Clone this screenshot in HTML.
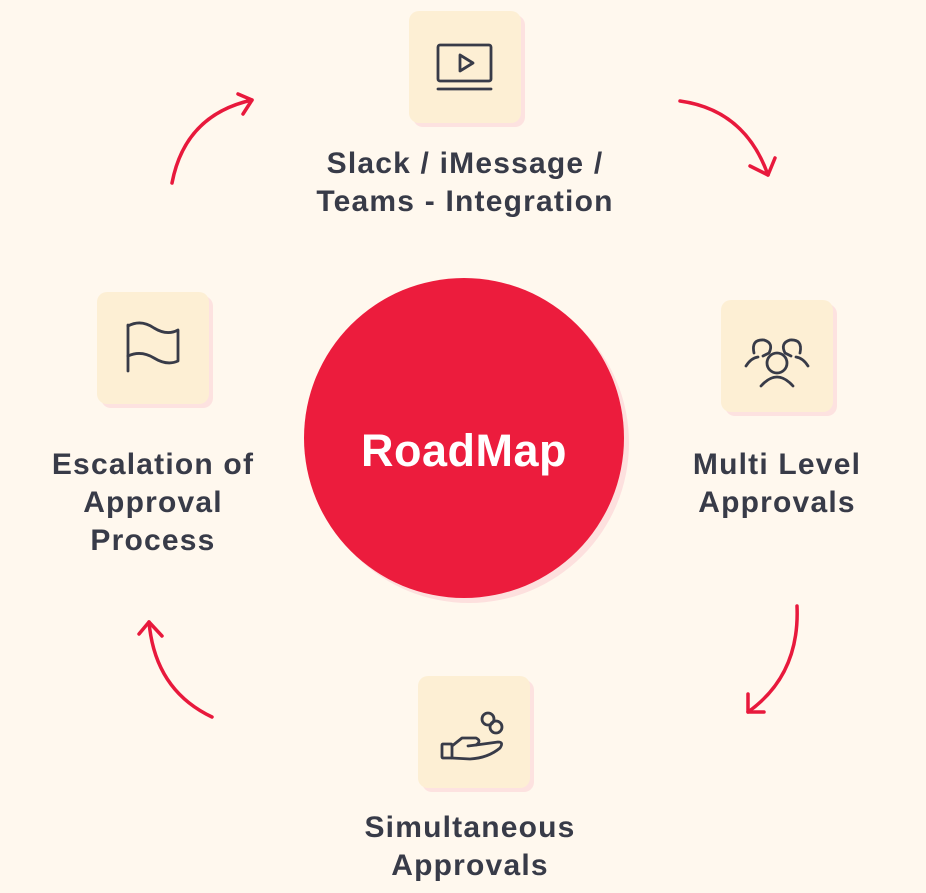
<!DOCTYPE html>
<html><head><meta charset="utf-8"><style>
html,body{margin:0;padding:0}
body{width:926px;height:893px;background:#fff8ee;position:relative;overflow:hidden;font-family:"Liberation Sans",sans-serif}
.box{position:absolute;width:112px;height:112px;background:#fdefd4;border-radius:10px;box-shadow:4px 4px 0 #fde2e0}
.box svg{position:absolute;left:0;top:0}
.lbl{position:absolute;text-align:center;color:#383b48;font-size:30px;line-height:38px;font-weight:bold;letter-spacing:1.2px;white-space:nowrap;transform:translateX(-50%)}
.circ{position:absolute;left:304px;top:278px;width:320px;height:320px;border-radius:50%;background:#ec1c3d;box-shadow:5px 5px 0 #fde0de}
.circ span{position:absolute;left:0;right:0;top:150px;text-align:center;color:#fff;font-weight:bold;font-size:45px;line-height:46px;letter-spacing:0.5px}
</style></head><body>
<svg width="926" height="893" style="position:absolute;left:0;top:0" fill="none" stroke="#e8193c" stroke-width="3.5" stroke-linecap="round" stroke-linejoin="round">
<path d="M172 183 Q185 115 252 100"/><path d="M238 94 L252 100 L243 114"/>
<path d="M680 101 Q745 110 768 175"/><path d="M750 166 L768 175 L775 158"/>
<path d="M797 606 Q800 675 748 712"/><path d="M748 694 L748 712 L764 712"/>
<path d="M212 717 Q155 690 149 622"/><path d="M139 634 L149 622 L162 636"/>
</svg>

<div class="box" style="left:409px;top:11px"><svg width="112" height="112" fill="none" stroke="#383b48" stroke-width="2.8" stroke-linecap="round" stroke-linejoin="round"><rect x="29" y="34" width="53" height="36" rx="2"/><path d="M51 44 L51 60 L64 52 Z"/><path d="M29 78 L82 78"/></svg></div>
<div class="box" style="left:721px;top:300px"><svg width="112" height="112" fill="none" stroke="#383b48" stroke-width="2.8" stroke-linecap="round" stroke-linejoin="round"><circle cx="56" cy="63" r="10"/><path d="M40 86 Q56 68 72 86"/><path d="M33 53 Q30 39 43 40 Q53 43 48 53 L42 56"/><path d="M25 66 Q30 58 37 57"/><path d="M79 53 Q82 39 69 40 Q59 43 64 53 L70 56"/><path d="M87 66 Q82 58 75 57"/></svg></div>
<div class="box" style="left:418px;top:676px"><svg width="112" height="112" fill="none" stroke="#383b48" stroke-width="2.8" stroke-linecap="round" stroke-linejoin="round"><circle cx="70" cy="43" r="6"/><circle cx="78" cy="51" r="6"/><rect x="24" y="68" width="10" height="14" rx="1"/><path d="M34 70 L44 62 L58 62 Q64 65 58 69 L50 70"/><path d="M58 69 L80 66 Q86 66 82 72 Q70 82 52 83 L34 82"/></svg></div>
<div class="box" style="left:97px;top:292px"><svg width="112" height="112" fill="none" stroke="#383b48" stroke-width="2.8" stroke-linecap="round" stroke-linejoin="round"><path d="M31 79 L31 33"/><path d="M31 34 Q44 27 57 36 Q70 44 81 38 L81 69 Q70 74 57 66 Q44 58 31 64"/></svg></div>

<div class="circ"><span>RoadMap</span></div>

<div class="lbl" style="left:465px;top:145px">Slack / iMessage /<br>Teams - Integration</div>
<div class="lbl" style="left:777px;top:446px">Multi Level<br>Approvals</div>
<div class="lbl" style="left:470px;top:809px">Simultaneous<br>Approvals</div>
<div class="lbl" style="left:153px;top:446px">Escalation of<br>Approval<br>Process</div>
</body></html>
